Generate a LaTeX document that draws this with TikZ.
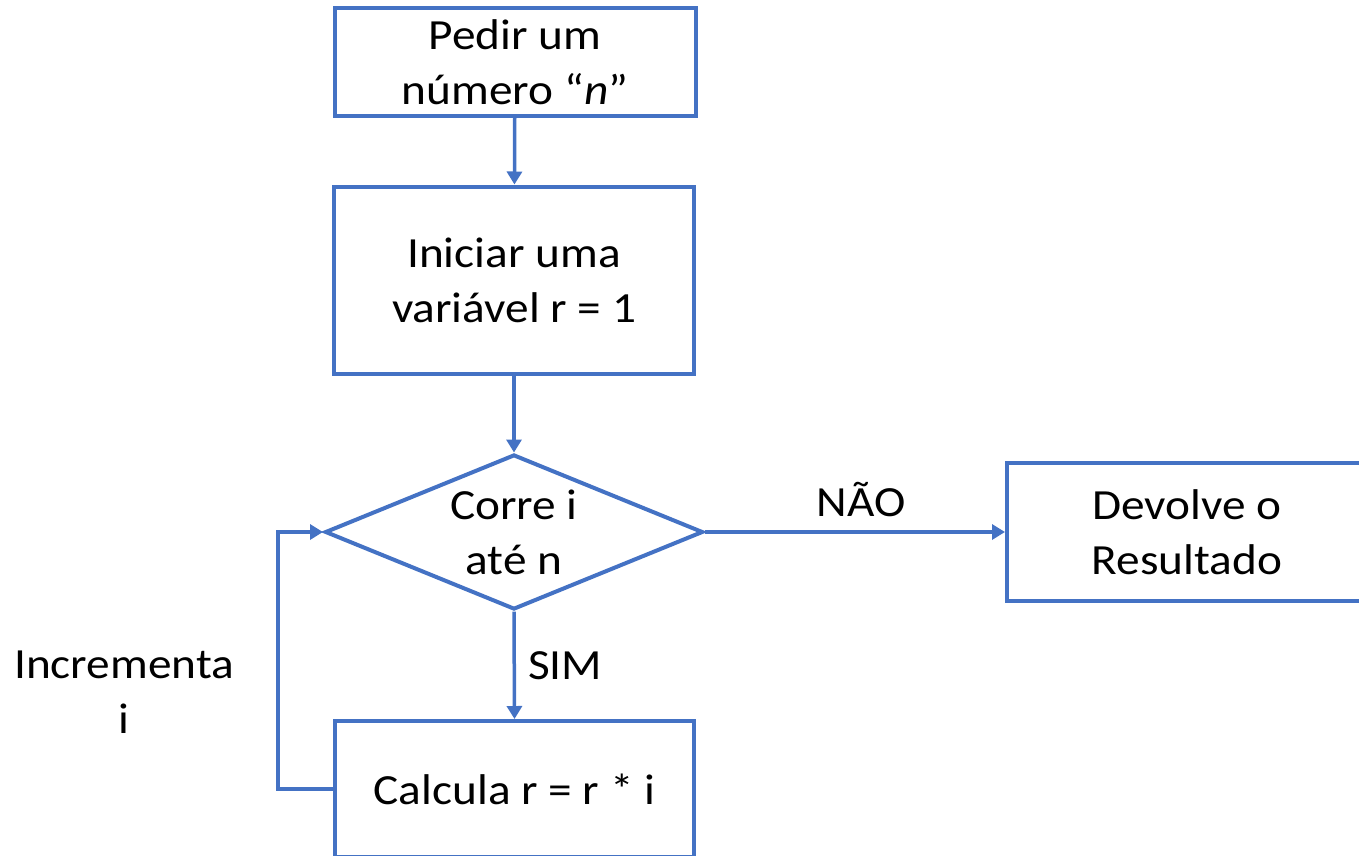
\documentclass[tikz,border=0pt]{standalone}
\usepackage{fontspec}
\setmainfont{Carlito}[FakeStretch=1.1]
\usetikzlibrary{arrows.meta,shapes.geometric}
\definecolor{flowblue}{HTML}{4472C4}
\begin{document}
\begin{tikzpicture}[x=1pt,y=-1pt,
  box/.style={draw=flowblue,line width=4pt,rectangle,align=center,inner sep=0pt,font=\fontsize{43}{55}\selectfont},
  dec/.style={draw=flowblue,line width=4pt,diamond,inner sep=0pt,minimum width=378pt,minimum height=155pt},
  lbl/.style={align=center,inner sep=0pt,font=\fontsize{43}{55}\selectfont},
  conn/.style={draw=flowblue,line width=3.5pt,-{Triangle[length=13pt,width=15pt]}}]
\clip (0,0) rectangle (1359,855);
\node[box,minimum width=361pt,minimum height=108pt] (n1) at (515,62) {Pedir um\\número “\textit{n}”};
\node[box,minimum width=360pt,minimum height=187pt] (n2) at (514,280) {Iniciar uma\\variável r = 1};
\node[dec] (d) at (514,532) {};
\node[lbl] (dt) at (d.center) {Corre i\\até n};
\node[box,minimum width=360pt,minimum height=138pt] (n3) at (1187,532) {Devolve o\\Resultado};
\node[box,minimum width=359pt,minimum height=136pt] (n4) at (514.5,789) {Calcula r = r * i};
\node[lbl] (inc) at (124,692) {Incrementa\\i};
\coordinate (lp) at (278,787);
\draw[conn] (n1) -- (n2);
\draw[conn] (n2) -- (d);
\draw[conn] (d.east) -- node[lbl,pos=0.52,above=13pt] (nao) {NÃO} (n3.west);
\draw[conn] (d.south) -- node[lbl,pos=0.5,right=12pt] (sim) {SIM} (n4.north);
\draw[conn] (n4.west) -- (n4.west -| lp) |- (d.west);
\end{tikzpicture}
\end{document}
